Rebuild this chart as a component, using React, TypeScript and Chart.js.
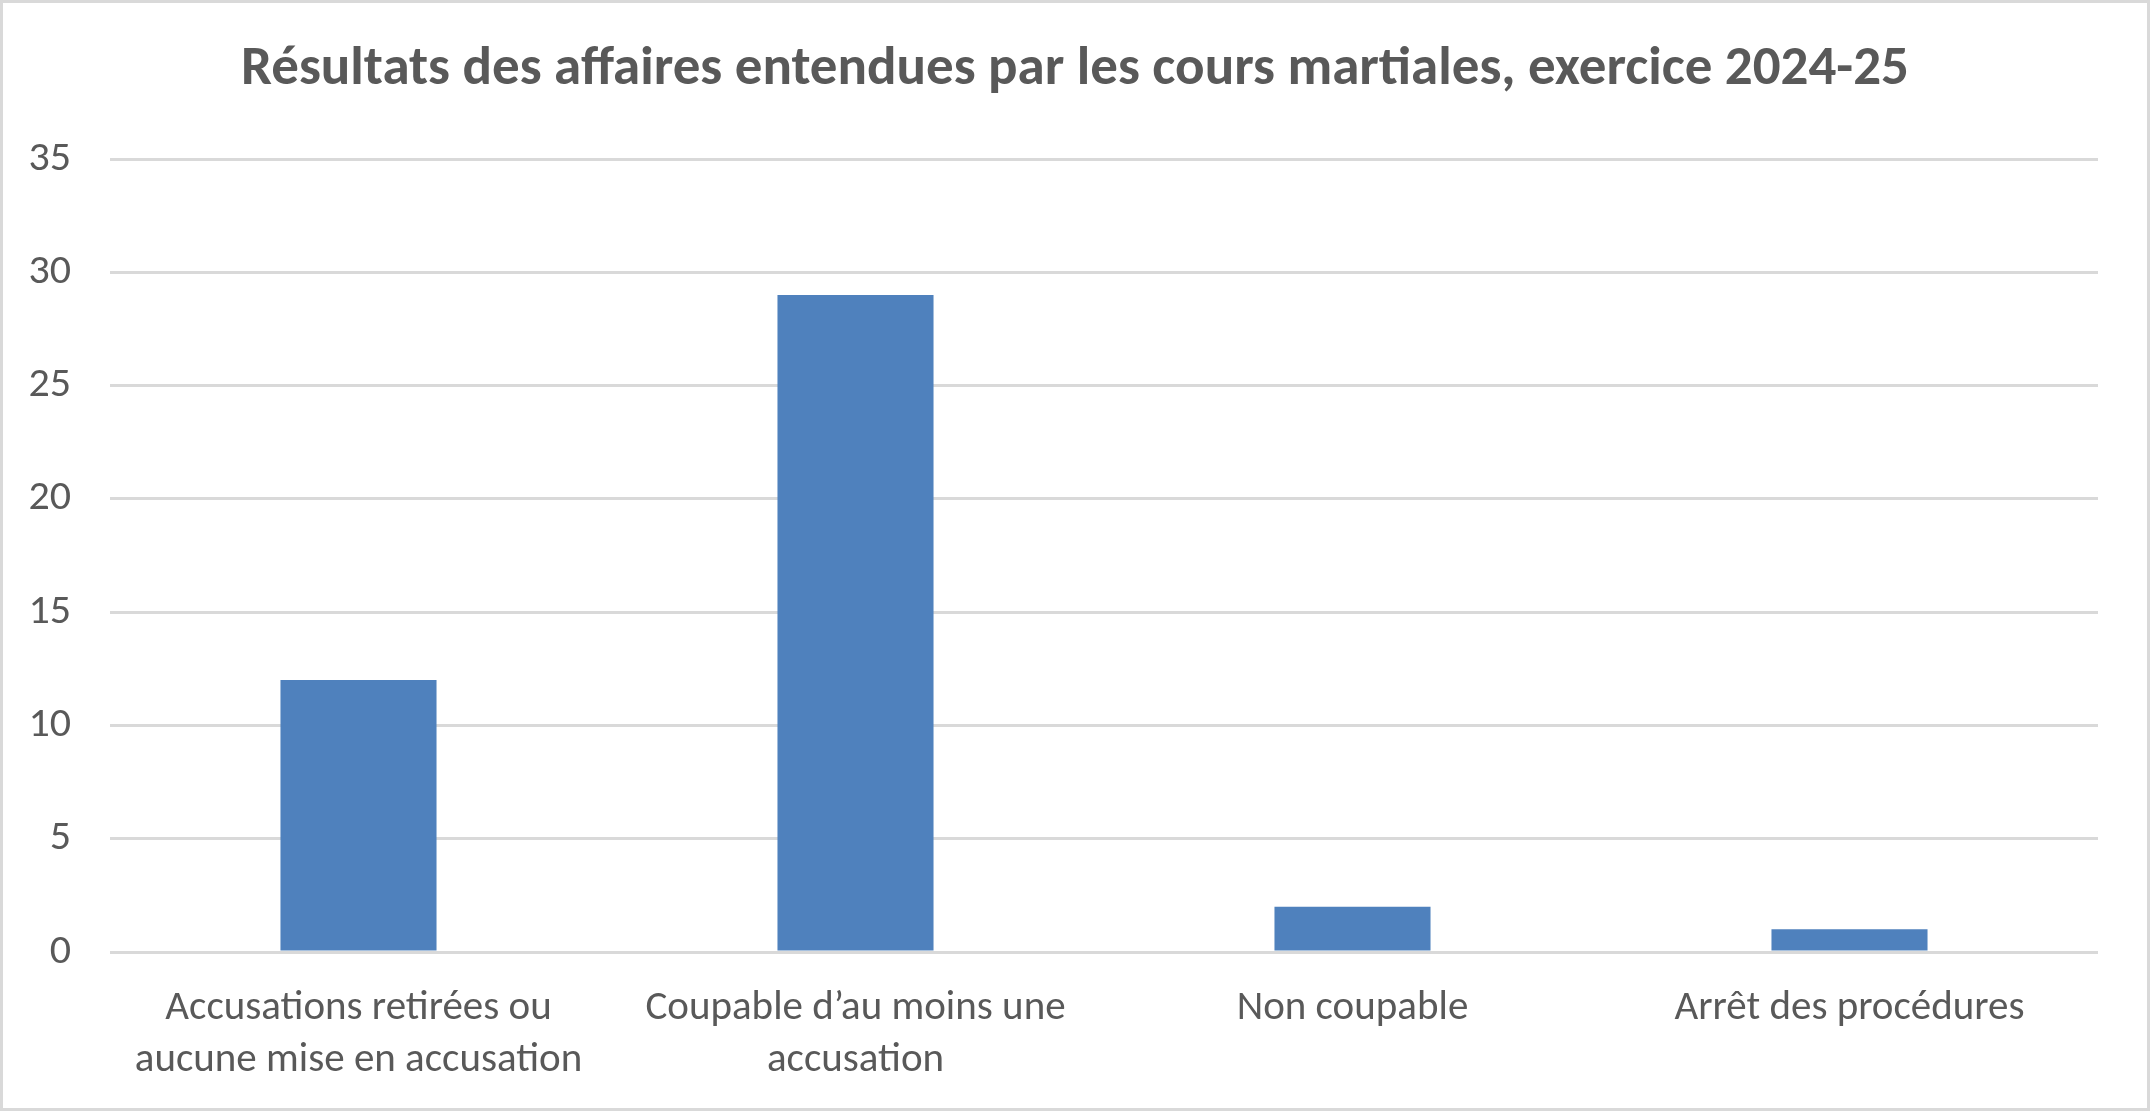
import React, { useEffect, useRef } from "react";
import { Chart, registerables } from "chart.js";

Chart.register(...registerables);

const TITLE = "Résultats des affaires entendues par les cours martiales, exercice 2024-25";
const CATEGORIES: (string | string[])[] = [
  ["Accusations retirées ou", "aucune mise en accusation"],
  ["Coupable d’au moins une", "accusation"],
  "Non coupable",
  "Arrêt des procédures",
];
const VALUES = [12, 29, 2, 1];
const Y_MIN = 0;
const Y_MAX = 35;
const Y_STEP = 5;

const FONT = "Carlito, Calibri, Lato, 'Noto Sans', sans-serif";
const TEXT = "#595959";
const GRID = "#D9D9D9";
const BAR = "#4F81BD";

const W = 2150;
const H = 1111;

const frame = {
  id: "frame",
  beforeDraw(chart: any) {
    const ctx = chart.ctx;
    ctx.save();
    ctx.fillStyle = "#ffffff";
    ctx.fillRect(0, 0, chart.width, chart.height);
    ctx.restore();
  },
  afterDraw(chart: any) {
    const ctx = chart.ctx;
    ctx.save();
    ctx.strokeStyle = GRID;
    ctx.lineWidth = 3;
    ctx.strokeRect(1.5, 1.5, chart.width - 3, chart.height - 3);
    ctx.restore();
  },
};

export default function App() {
  const ref = useRef<HTMLCanvasElement>(null);

  useEffect(() => {
    document.body.style.margin = "0";
    const canvas = ref.current!;
    const chart = new Chart(canvas, {
      type: "bar",
      data: {
        labels: CATEGORIES,
        datasets: [
          {
            data: VALUES,
            backgroundColor: BAR,
            borderWidth: 0,
            barPercentage: 0.314,
            categoryPercentage: 1,
            yAxisID: "y",
          },
        ],
      },
      plugins: [frame],
      options: {
        animation: false,
        responsive: false,
        devicePixelRatio: 1,
        layout: { padding: 0 },
        plugins: {
          legend: { display: false },
          tooltip: { enabled: false },
          title: {
            display: true,
            text: TITLE,
            color: TEXT,
            font: { family: FONT, size: 55, weight: "bold", lineHeight: 1.2 },
            padding: { top: 37, bottom: 56 },
          },
        },
        scales: {
          x: {
            grid: { display: false, drawTicks: false },
            border: { display: false },
            ticks: {
              color: TEXT,
              font: { family: FONT, size: 41, lineHeight: 52 / 41 },
              padding: 31,
              maxRotation: 0,
              autoSkip: false,
            },
            afterFit(scale: any) {
              scale.height = 159;
            },
          },
          y: {
            position: "left",
            min: Y_MIN,
            max: Y_MAX,
            grid: { color: GRID, lineWidth: 3, drawTicks: false },
            border: { display: false },
            ticks: {
              stepSize: Y_STEP,
              color: TEXT,
              font: { family: FONT, size: 42 },
              padding: 39,
            },
            afterFit(scale: any) {
              scale.width = 110;
            },
          },
          spacer: {
            type: "linear",
            position: "right",
            display: true,
            grid: { display: false, drawTicks: false },
            border: { display: false },
            ticks: { display: false },
            afterFit(scale: any) {
              scale.width = 52;
            },
          },
        },
      },
    });
    return () => chart.destroy();
  }, []);

  return (
    <canvas
      ref={ref}
      width={W}
      height={H}
      style={{ position: "fixed", left: 0, top: 0, width: W, height: H }}
    />
  );
}
